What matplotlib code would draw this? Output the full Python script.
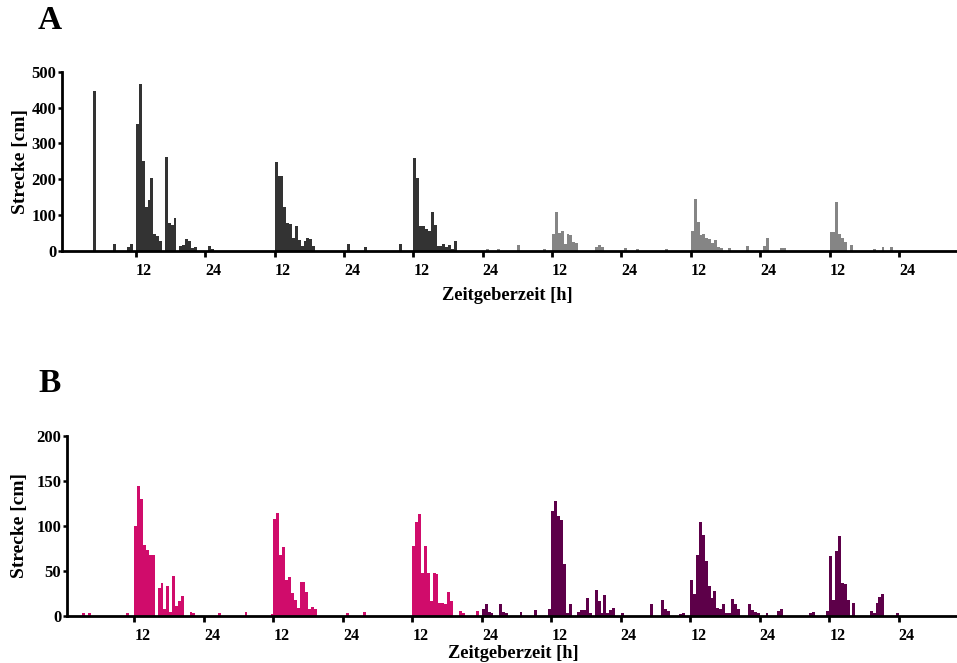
import matplotlib
matplotlib.use("Agg")
import matplotlib.pyplot as plt

plt.rcParams["font.family"] = ["Liberation Serif", "DejaVu Serif"]
plt.rcParams["font.weight"] = "bold"

# ── data: 30-min bins, start hour (ZT, continuous over 6 days) and distance [cm] ──

# panel A, days 1-3 (dark grey)
a_dark_h = [4.5, 8.0, 10.5, 11.0, 12.0, 12.5, 13.0, 13.5, 14.0, 14.5, 15.0, 15.5, 16.0,
            17.0, 17.5, 18.0, 18.5, 19.5, 20.0, 20.5, 21.0, 21.5, 22.0,
            24.5, 25.0, 36.0, 36.5, 37.0, 37.5, 38.0, 38.5, 39.0, 39.5, 40.0, 40.5,
            41.0, 41.5, 42.0, 42.5,
            48.5, 51.5, 57.5, 60.0, 60.5, 61.0, 61.5, 62.0, 62.5, 63.0, 63.5, 64.0,
            64.5, 65.0, 65.5, 66.0, 66.5, 67.0]
a_dark_v = [447, 18, 10, 18, 354, 466, 250, 121, 141, 203, 48, 40, 28,
            261, 78, 71, 92, 12, 16, 33, 28, 8, 9,
            12, 6, 248, 208, 208, 121, 77, 74, 36, 68, 30, 12,
            28, 35, 32, 14,
            18, 10, 18, 259, 202, 70, 68, 62, 55, 108, 72, 14,
            12, 18, 10, 15, 5, 26]

# panel A, days 4-6 (light grey)
a_grey_h = [72.5, 74.5, 78.0, 82.5, 84.0, 84.5, 85.0, 85.5, 86.0, 86.5, 87.0, 87.5, 88.0,
            91.5, 92.0, 92.5,
            96.5, 98.5, 103.5, 108.0, 108.5, 109.0, 109.5, 110.0, 110.5, 111.0, 111.5,
            112.0, 112.5, 113.0, 114.5, 117.5,
            120.5, 121.0, 123.5, 124.0, 132.0, 132.5, 133.0, 133.5, 134.0, 134.5, 135.5,
            139.5, 141.0, 142.5]
a_grey_v = [5, 6, 15, 5, 46, 109, 50, 55, 18, 48, 43, 24, 22,
            10, 16, 10,
            8, 6, 4, 55, 145, 80, 45, 48, 36, 32, 22,
            29, 10, 8, 7, 14,
            14, 35, 7, 7, 52, 52, 137, 48, 35, 25, 17,
            5, 10, 10]

# panel B, days 1-3 (magenta)
b_pink_h = [3.0, 4.0, 10.5, 12.0, 12.5, 13.0, 13.5, 14.0, 14.5, 15.0,
            16.0, 16.5, 17.0, 17.5, 18.0, 18.5, 19.0, 19.5, 20.0, 21.5, 22.0,
            26.5, 31.0, 35.5, 36.0, 36.5, 37.0, 37.5, 38.0, 38.5, 39.0, 39.5, 40.0,
            40.5, 41.0, 41.5, 42.0, 42.5, 43.0,
            48.5, 51.5, 60.0, 60.5, 61.0, 61.5, 62.0, 62.5, 63.0, 63.5, 64.0, 64.5,
            65.0, 65.5, 66.0, 66.5, 68.0, 68.5, 71.0]
b_pink_v = [3, 3, 3, 100, 144, 130, 79, 73, 68, 67,
            31, 36, 7, 33, 4, 44, 11, 16, 22, 4, 3,
            3, 4, 2, 107, 114, 68, 76, 40, 43, 25, 17, 9,
            38, 37, 26, 7, 10, 7,
            3, 4, 78, 104, 113, 48, 78, 47, 16, 47, 46, 14,
            14, 13, 26, 16, 5, 3, 5]

# panel B, days 4-6 (dark purple)
b_purple_h = [72.0, 72.5, 73.0, 73.5, 75.0, 75.5, 76.0, 78.5, 81.0, 83.5,
              84.0, 84.5, 85.0, 85.5, 86.0, 86.5, 87.0, 88.5, 89.0, 89.5, 90.0, 90.5,
              91.5, 92.0, 92.5, 93.0, 93.5, 94.0, 94.5,
              96.0, 101.0, 103.0, 103.5, 104.0, 106.0, 106.5,
              108.0, 108.5, 109.0, 109.5, 110.0, 110.5, 111.0, 111.5, 112.0, 112.5,
              113.0, 113.5, 114.0, 114.5, 115.0, 115.5, 116.0, 118.0, 118.5, 119.0, 119.5,
              121.0, 123.0, 123.5, 128.5, 129.0, 131.5,
              132.0, 132.5, 133.0, 133.5, 134.0, 134.5, 135.0, 136.0,
              139.0, 139.5, 140.0, 140.5, 141.0, 143.5]
b_purple_v = [8, 13, 4, 3, 13, 4, 3, 4, 6, 7,
              116, 128, 111, 106, 57, 3, 13, 4, 6, 6, 20, 3,
              29, 16, 3, 23, 3, 6, 9,
              3, 13, 17, 8, 5, 2, 3,
              40, 24, 67, 104, 90, 61, 33, 20, 28, 9,
              8, 13, 3, 3, 19, 13, 7, 13, 6, 4, 3,
              3, 5, 7, 3, 4, 5,
              66, 17, 72, 89, 36, 35, 17, 14,
              5, 3, 14, 21, 24, 3]

hour_ticks = [12, 24, 36, 48, 60, 72, 84, 96, 108, 120, 132, 144]
tick_labels = ["12", "24"] * 6

DARK, GREY = "#333333", "#858585"
PINK, PURPLE = "#D00C6B", "#5D0049"
BIN = 0.5


def style_axis(ax, ymax, ystep, xlim, label_y):
    ax.set_xlim(*xlim)
    ax.set_ylim(0, ymax)
    ax.set_yticks(range(0, ymax + 1, ystep))
    ax.set_xticks(hour_ticks)
    ax.set_xticklabels(tick_labels)
    for lab in ax.get_xticklabels():
        lab.set_horizontalalignment("left")
    for side in ("top", "right"):
        ax.spines[side].set_visible(False)
    for side in ("left", "bottom"):
        ax.spines[side].set_linewidth(2.0)
    ax.tick_params(axis="x", length=4.5, width=2.0, pad=4.5, labelsize=11.5)
    ax.tick_params(axis="y", length=3, width=1.8, pad=1, labelsize=12)
    ax.set_ylabel("Strecke [cm]", fontsize=14, fontweight="bold")
    ax.set_xlabel("Zeitgeberzeit [h]", fontsize=13.2, fontweight="bold")
    ax.yaxis.set_label_coords(label_y, 0.5)


fig = plt.figure(figsize=(9.57, 6.63), dpi=100)

# ── panel A ──────────────────────────────────────────────────────────────────
axA = fig.add_axes([62 / 957, 1 - 250.7 / 663, (957 - 62) / 957, 179 / 663])
axA.bar(a_dark_h, a_dark_v, width=BIN, align="edge", color=DARK, linewidth=0)
axA.bar(a_grey_h, a_grey_v, width=BIN, align="edge", color=GREY, linewidth=0)
style_axis(axA, 500, 100, (-0.8, 154.05), -0.037)
axA.xaxis.set_label_coords(0.497, -0.20)
axA.xaxis.label.set_va("top")

# ── panel B ──────────────────────────────────────────────────────────────────
axB = fig.add_axes([66.7 / 957, 1 - 615.7 / 663, (957 - 66.7) / 957, 180 / 663])
axB.bar(b_pink_h, b_pink_v, width=BIN, align="edge", color=PINK, linewidth=0)
axB.bar(b_purple_h, b_purple_v, width=BIN, align="edge", color=PURPLE, linewidth=0)
style_axis(axB, 200, 50, (0.29, 154.06), -0.043)
axB.xaxis.set_label_coords(0.502, -0.163)
axB.xaxis.label.set_va("top")

fig.text(38 / 957, 1 - 5 / 663, "A", fontsize=24, fontweight="bold", va="top", ha="left")
fig.text(38 / 957, 1 - 368 / 663, "B", fontsize=24, fontweight="bold", va="top", ha="left")

fig.savefig("out.png", dpi=100)
